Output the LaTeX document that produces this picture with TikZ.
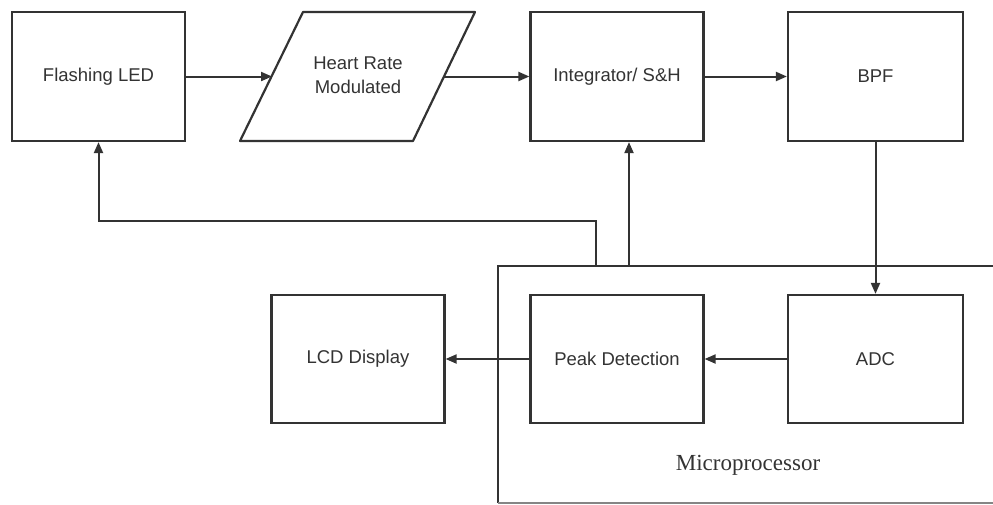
\documentclass[tikz,border=0pt]{standalone}
\usepackage{fontspec}
\setmainfont{Liberation Sans}
\newfontfamily\serifmp{Liberation Serif}
\usetikzlibrary{arrows.meta}
\definecolor{ln}{HTML}{333333}
\definecolor{tx}{HTML}{333333}
\begin{document}
\begin{tikzpicture}[x=1pt,y=-1pt,
  blk/.style={draw=ln,line width=2.2pt,rectangle,minimum width=173pt,minimum height=129pt,inner sep=0pt,text=tx,font=\fontsize{18.5}{22}\selectfont,align=center},
  arr/.style={draw=ln,line width=2pt,-{Triangle[length=11pt,width=9pt]}},
  ln/.style={draw=ln,line width=2pt}]
\path[use as bounding box] (0,0) rectangle (993,504);
% microprocessor container (clipped at the right and bottom)
\begin{scope}
\clip (0,0) rectangle (993,504);
\draw[ln,line width=2.2pt] (1000,266) -- (498,266) -- (498,503);
\draw[draw=ln!60,line width=2pt] (498,503) -- (1000,503);
\end{scope}
\node[text=tx,font=\serifmp\fontsize{23}{27}\selectfont] (mptext) at (748,465) {Microprocessor};
% blocks
\node[blk] (led) at (98.5,76.5) {Flashing LED};
\draw[ln,line width=2.2pt,line join=round] (303,12) -- (475,12) -- (413,141) -- (240,141) -- cycle;
\node[text=tx,font=\fontsize{18.5}{24}\selectfont,align=center] (hrm) at (358,75) {Heart Rate\\Modulated};
\coordinate (pL) at (272,76.5);
\coordinate (pR) at (444,76.5);
\node[blk] (int) at (617,76.5) {Integrator/ S\&H};
\node[blk,minimum width=175pt] (bpf) at (875.5,76.5) {BPF};
\node[blk,minimum height=128pt] (lcd) at (358,359) {LCD Display};
\node[blk,minimum height=128pt] (peak) at (617,359) {Peak Detection};
\node[blk,minimum width=175pt,minimum height=128pt] (adc) at (875.5,359) {ADC};
% connectors
\draw[arr] (led.east) -- (pL);
\draw[arr] (pR) -- (int.west);
\draw[arr] (int.east) -- (bpf.west);
\draw[arr] (bpf.south) -- (adc.north);
\draw[arr] (adc.west) -- (peak.east);
\draw[arr] (peak.west) -- (lcd.east);
\coordinate (mpI) at (629,266);
\draw[arr] (mpI) -- (mpI |- int.south);
\coordinate (fb) at (596,266);
\coordinate (fbturn) at (596,221);
\draw[arr] (fb) -- (fbturn) -| (led.south);
\end{tikzpicture}
\end{document}
